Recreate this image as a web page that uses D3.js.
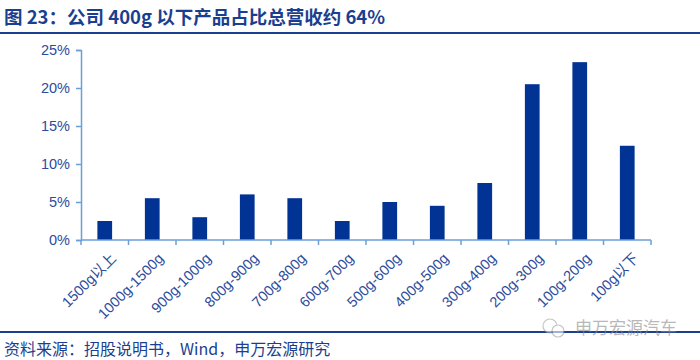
<!DOCTYPE html>
<html>
<head>
<meta charset="utf-8">
<script src="https://cdn.jsdelivr.net/npm/d3@7"></script>
<style>
  html, body { margin: 0; padding: 0; background: #ffffff; }
  svg { display: block; }
</style>
</head>
<body>
<svg id="chart" width="700" height="360"></svg>
<script>
const titleText = "图 23：公司 400g 以下产品占比总营收约 64%";
const sourceText = "资料来源：招股说明书，Wind，申万宏源研究";
const watermarkText = "申万宏源汽车";
const categories = ["1500g以上", "1000g-1500g", "900g-1000g", "800g-900g", "700g-800g", "600g-700g", "500g-600g", "400g-500g", "300g-400g", "200g-300g", "100g-200g", "100g以下"];
const shares = [2.5, 5.5, 3.0, 6.0, 5.5, 2.5, 5.0, 4.5, 7.5, 20.5, 23.4, 12.4];
const yTicks = [0, 5, 10, 15, 20, 25];

const svg = d3.select("#chart");
const cjk = "'Noto Sans CJK SC', 'Liberation Sans', Arial, sans-serif";
const latin = "'Liberation Sans', Arial, 'Noto Sans CJK SC', sans-serif";
const darkBlue = "#1b3f8f";
const barColor = "#003394";
const axisColor = "#6a9fd8";
const labelColor = "#2d4b9b";

// Title
svg.append("text")
  .attr("x", 4).attr("y", 24)
  .attr("font-family", cjk).attr("font-weight", "bold").attr("font-size", 18.5)
  .attr("fill", darkBlue).text(titleText);
svg.append("line").attr("x1", 0).attr("x2", 700).attr("y1", 33).attr("y2", 33)
  .attr("stroke", darkBlue).attr("stroke-width", 2);

// Scales
const x = d3.scaleBand().domain(categories).range([81, 651]).paddingInner(0.69).paddingOuter(0.345);
const xb = d3.scaleBand().domain(categories).range([81, 651]);
const y = d3.scaleLinear().domain([0, 25]).range([240, 50]);

// Y axis
const yAxis = d3.axisLeft(y).tickValues(yTicks).tickFormat(d => d + "%").tickSize(5).tickPadding(6);
const gy = svg.append("g").attr("transform", "translate(81,0)").call(yAxis);
gy.select(".domain").attr("stroke", axisColor).attr("stroke-width", 1.5);
gy.selectAll(".tick line").attr("stroke", axisColor).attr("stroke-width", 1.5);
gy.selectAll(".tick text").attr("fill", labelColor).attr("font-family", latin).attr("font-size", 14.5);

// Bars
svg.append("g").selectAll("rect").data(categories).join("rect")
  .attr("x", d => x(d)).attr("width", x.bandwidth())
  .attr("y", (d, i) => y(shares[i])).attr("height", (d, i) => y(0) - y(shares[i]))
  .attr("fill", barColor);

// X axis
const gx = svg.append("g").attr("transform", "translate(0,240)");
gx.append("line").attr("x1", 81).attr("x2", 651).attr("y1", 0).attr("y2", 0)
  .attr("stroke", axisColor).attr("stroke-width", 1.5);
const bounds = categories.map(d => xb(d)).concat([xb(categories[categories.length - 1]) + xb.bandwidth()]);
gx.selectAll("line.tk").data(bounds).join("line").attr("class", "tk")
  .attr("x1", d => d).attr("x2", d => d).attr("y1", 0).attr("y2", 5)
  .attr("stroke", axisColor).attr("stroke-width", 1.5);
gx.selectAll("text.lbl").data(categories).join("text").attr("class", "lbl")
  .attr("transform", d => `translate(${xb(d) + xb.bandwidth() / 2 + 5},${12}) rotate(-45)`)
  .attr("text-anchor", "end").attr("dy", "0.71em")
  .attr("font-family", latin).attr("font-size", 14.5).attr("fill", labelColor)
  .text(d => d);

// Bottom line and source
svg.append("line").attr("x1", 0).attr("x2", 700).attr("y1", 332).attr("y2", 332)
  .attr("stroke", darkBlue).attr("stroke-width", 2);
svg.append("text").attr("x", 4).attr("y", 355)
  .attr("font-family", cjk).attr("font-size", 16).attr("fill", darkBlue)
  .text(sourceText);

// Watermark
const wm = svg.append("g").attr("opacity", 0.6);
wm.append("circle").attr("cx", 550).attr("cy", 326).attr("r", 7).attr("fill", "#ffffff").attr("stroke", "#a0a0a0").attr("stroke-width", 1.2);
wm.append("circle").attr("cx", 558).attr("cy", 331).attr("r", 6).attr("fill", "#ffffff").attr("stroke", "#a0a0a0").attr("stroke-width", 1.2);
wm.append("text").attr("x", 575).attr("y", 334)
  .attr("font-family", cjk).attr("font-size", 17).attr("fill", "#8a8a8a")
  .text(watermarkText);
</script>
</body>
</html>
